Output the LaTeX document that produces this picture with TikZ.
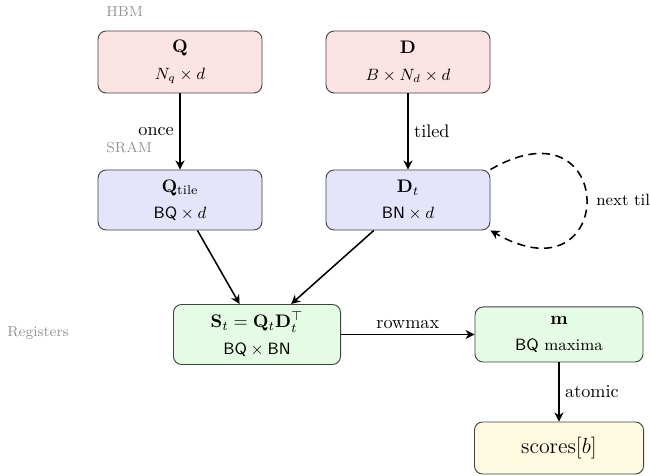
\documentclass[tikz,border=0pt]{standalone}
\usepackage{amsmath,amssymb}
\usetikzlibrary{arrows.meta}
\definecolor{hbmfill}{RGB}{253,228,228}
\definecolor{sramfill}{RGB}{228,228,251}
\definecolor{regfill}{RGB}{228,251,228}
\definecolor{outfill}{RGB}{255,251,224}
\begin{document}
\begin{tikzpicture}[x=0.55pt,y=-0.55pt,
  box/.style={draw=black!75, rounded corners=4.5pt, line width=0.5pt, align=center, inner sep=2pt},
  arr/.style={-{Stealth[length=5pt,width=5pt]}, line width=0.85pt},
  lvl/.style={text=black!42, anchor=west, font=\footnotesize, inner sep=0pt},
  lab/.style={font=\normalsize, inner sep=3pt},
  dashloop/.style={dashed, dash pattern=on 4.5pt off 3pt}]
\useasboundingbox (0,0) rectangle (650,476);

\node[lvl] (hbm) at (106,12) {HBM};
\node[lvl] (sram) at (106,147) {SRAM};
\node[lvl] (regs) at (7,333) {Registers};

\node[box, fill=hbmfill, minimum width=90.2pt, minimum height=34.1pt] (Q) at (180,62)
  {$\mathbf{Q}$\\[3pt]\small $N_q\times d$};
\node[box, fill=hbmfill, minimum width=90.2pt, minimum height=34.1pt] (D) at (408,62)
  {$\mathbf{D}$\\[3pt]\small $B\times N_d\times d$};
\node[box, fill=sramfill, minimum width=90.2pt, minimum height=33pt] (Qt) at (180,200)
  {$\mathbf{Q}_{\text{tile}}$\\[2.5pt]\small $\mathsf{BQ}\times d$};
\node[box, fill=sramfill, minimum width=90.2pt, minimum height=33pt] (Dt) at (408,200)
  {$\mathbf{D}_t$\\[2.5pt]\small $\mathsf{BN}\times d$};
\node[box, fill=regfill, minimum width=91.9pt, minimum height=33pt] (S) at (257,334.5)
  {$\mathbf{S}_t=\mathbf{Q}_t\mathbf{D}_t^{\top}$\\[3pt]\small $\mathsf{BQ}\times\mathsf{BN}$};
\node[box, fill=regfill, minimum width=92.4pt, minimum height=30.3pt] (m) at (559,334.5)
  {$\mathbf{m}$\\[2.5pt]\small $\mathsf{BQ}$ maxima};
\node[box, fill=outfill, minimum width=93pt, minimum height=28.6pt, font=\large] (sc) at (559,448)
  {scores$[b]$};

\draw[arr] (Q) -- node[left,lab]{once} (Qt);
\draw[arr] (D) -- node[right,lab]{tiled} (Dt);
\draw[arr] (Qt) -- (S);
\draw[arr] (Dt) -- (S);
\draw[arr] (S) -- node[above,lab]{rowmax} (m);
\draw[arr] (m) -- node[right,lab]{atomic} (sc);
\draw[arr,dashloop] (Dt.north east) .. controls +(128,-74) and +(128,74) .. node[pos=0.5,right,lab,font=\small,xshift=2pt]{next tile} (Dt.south east);
\end{tikzpicture}
\end{document}
